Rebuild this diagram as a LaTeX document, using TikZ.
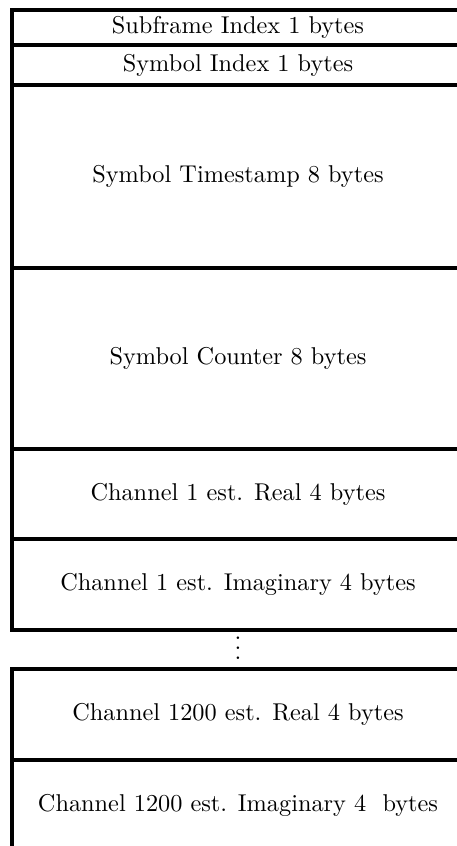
\documentclass[tikz,border=0pt]{standalone}
\begin{document}
\begin{tikzpicture}[x=0.4114pt,y=-0.4114pt,
  fieldline/.style={draw=black, line width=1.55pt, line join=miter},
  fieldtext/.style={inner sep=0pt, anchor=center}]
\useasboundingbox (0,0) rectangle (457,846);
% one record field: outline box plus its centred caption
\newcommand\recfield[4]{%
  \draw[fieldline] (12,#2) rectangle (464,#3);
  \node[fieldtext] (#1) at (238,{(#2+#3)/2}) {#4};}
\begin{scope}
\clip (0,0) rectangle (457,846);
\recfield{subframe}{10.3}{44.7}{Subframe Index 1 bytes}
\recfield{symidx}{44.7}{85.3}{Symbol Index 1 bytes}
\recfield{stamp}{85.3}{268}{Symbol Timestamp 8 bytes}
\recfield{counter}{268}{449}{Symbol Counter 8 bytes}
\recfield{chAre}{449}{539}{Channel 1 est. Real 4 bytes}
\recfield{chAim}{539}{630}{Channel 1 est. Imaginary 4 bytes}
\recfield{chBre}{669}{760}{Channel 1200 est. Real 4 bytes}
\recfield{chBim}{760}{850}{Channel 1200 est. Imaginary 4~ bytes}
\end{scope}
% elided channel records
\node[inner sep=0pt] (gap) at (238,641) {$\vdots$};
\end{tikzpicture}
\end{document}
